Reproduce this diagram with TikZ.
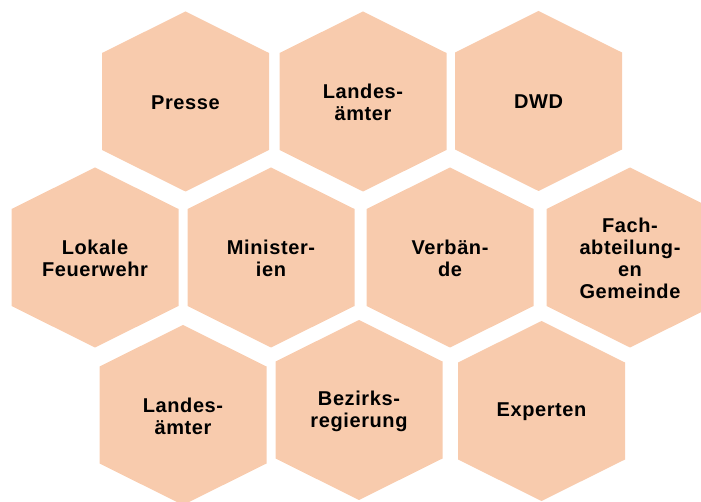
\documentclass[tikz,border=0pt]{standalone}
\usepackage{fontspec}
\setmainfont{Liberation Sans}[LetterSpace=3]
\definecolor{cellfill}{HTML}{F8CBAD}
\tikzset{
  x=1pt, y=-1pt,
  celltext/.style={align=center, font=\bfseries\fontsize{20}{22}\selectfont, text=black, inner sep=0pt},
}
% one hexagonal cell: #1 name, #2 x, #3 y, #4 label
\newcommand{\hexcell}[4]{%
  \fill[cellfill] (#2,#3) ++(0,-90) -- ++(83.5,41.5) -- ++(0,97) -- ++(-83.5,41.5)
    -- ++(-83.5,-41.5) -- ++(0,-97) -- cycle;
  \node[celltext] (#1) at (#2,#3+1) {#4};
}
\begin{document}
\begin{tikzpicture}
\useasboundingbox (0,0) rectangle (701,502);
\clip (0,0) rectangle (701,502);
\hexcell{presse}{185.5}{101.5}{Presse}
\hexcell{landesA}{363}{101.5}{Landes-\\ämter}
\hexcell{dwd}{538.5}{101}{DWD}
\hexcell{feuerwehr}{95}{257.5}{Lokale\\Feuerwehr}
\hexcell{ministerien}{271}{257.5}{Minister-\\ien}
\hexcell{verbaende}{450}{257.5}{Verbän-\\de}
\hexcell{fachabt}{630}{257.5}{Fach-\\abteilung-\\en\\Gemeinde}
\hexcell{landesB}{183}{415}{Landes-\\ämter}
\hexcell{bezirk}{359}{410}{Bezirks-\\regierung}
\hexcell{experten}{541.5}{411}{Experten}
\end{tikzpicture}
\end{document}
